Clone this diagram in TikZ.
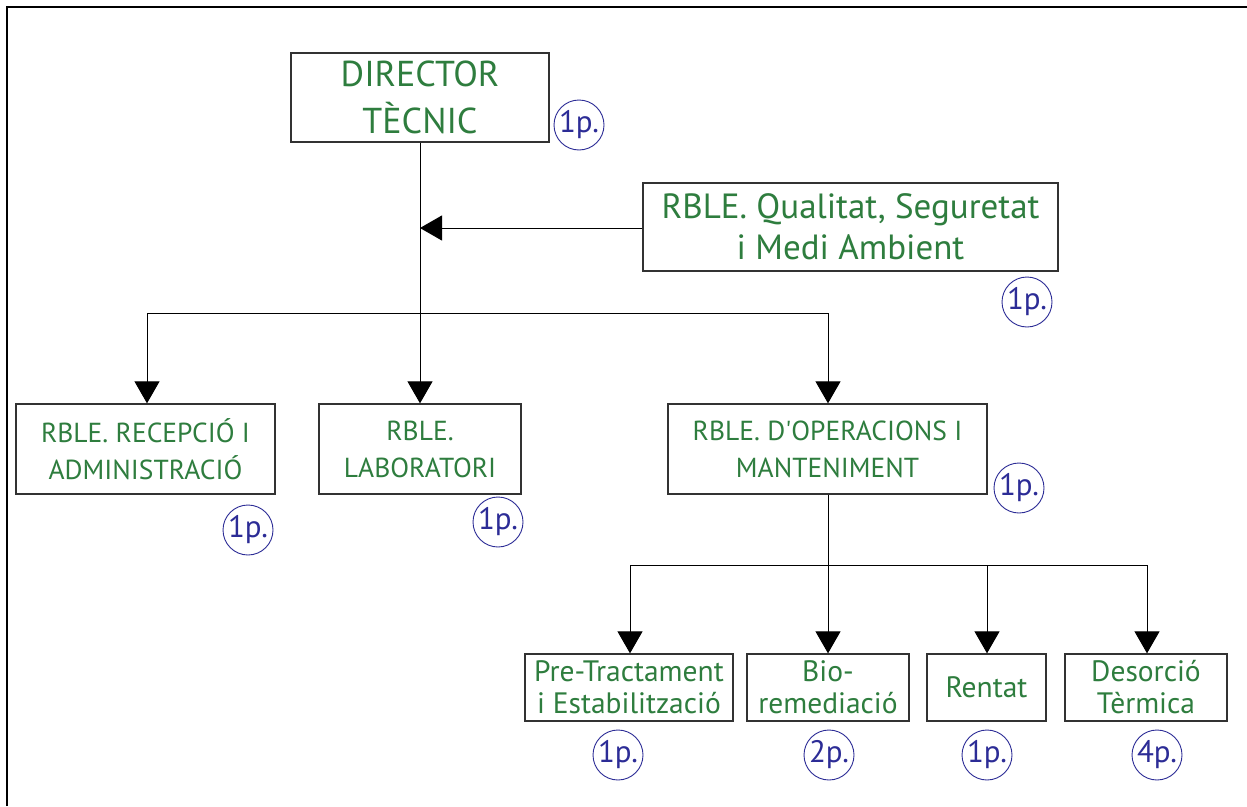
\documentclass[tikz,border=0pt]{standalone}
\usepackage{fontspec}
\setmainfont{PT Sans}
\usetikzlibrary{arrows.meta}
\definecolor{txtgreen}{RGB}{46,125,62}
\definecolor{circblue}{RGB}{44,44,150}
\definecolor{boxline}{RGB}{50,50,50}
\tikzset{
  box/.style={draw=boxline, line width=1.3pt, inner sep=0pt, align=center, text=txtgreen},
  cnt/.style={draw=circblue, line width=0.9pt, circle, minimum size=50pt, inner sep=0pt, text=circblue, font=\fontsize{31}{31}\selectfont},
  conn/.style={draw=black, line width=1pt},
  arr/.style={conn, -{Triangle[length=22pt,width=25pt]}},
}
\begin{document}
\begin{tikzpicture}[x=1pt,y=-1pt]
\useasboundingbox (0,0) rectangle (1247,806);
\fill[white] (0,0) rectangle (1247,806);
\draw[line width=2.5pt] (7,806) -- (7,7) -- (1247,7);

\node[box, minimum width=258pt, minimum height=89pt, font=\fontsize{36}{47}\selectfont] (dir) at (420,97.5) {DIRECTOR\\TÈCNIC};
\node[box, minimum width=415pt, minimum height=88pt, font=\fontsize{35}{41}\selectfont] (q) at (850.5,227) {RBLE. Qualitat, Seguretat\\i Medi Ambient};
\node[box, minimum width=259pt, minimum height=90pt, font=\fontsize{27.5}{37}\selectfont] (rec) at (145.5,449) {RBLE. RECEPCIÓ I\\ADMINISTRACIÓ};
\node[box, minimum width=202pt, minimum height=90pt, font=\fontsize{27.5}{37}\selectfont] (lab) at (420,449) {RBLE.\\LABORATORI};
\node[box, minimum width=319pt, minimum height=90pt, font=\fontsize{27.5}{37}\selectfont] (op) at (827.5,449) {RBLE. D\textquotesingle OPERACIONS I\\MANTENIMENT};
\node[box, minimum width=208pt, minimum height=67pt, font=\fontsize{29.5}{32}\selectfont] (pre) at (629,687.5) {Pre-Tractament\\i Estabilització};
\node[box, minimum width=162pt, minimum height=67pt, font=\fontsize{29.5}{32}\selectfont] (bio) at (828,687.5) {Bio-\\remediació};
\node[box, minimum width=119pt, minimum height=67pt, font=\fontsize{29.5}{32}\selectfont] (ren) at (986.5,687.5) {Rentat};
\node[box, minimum width=162pt, minimum height=67pt, font=\fontsize{29.5}{32}\selectfont] (des) at (1146,687.5) {Desorció\\Tèrmica};

\node[cnt] (cdir) at (579,125) {1p.};
\node[cnt] (cq) at (1027,302) {1p.};
\node[cnt] (crec) at (248,530) {1p.};
\node[cnt] (clab) at (498,522) {1p.};
\node[cnt] (cop) at (1019,488) {1p.};
\node[cnt] (cpre) at (618,755) {1p.};
\node[cnt] (cbio) at (829,755) {2p.};
\node[cnt] (cren) at (987,755) {1p.};
\node[cnt] (cdes) at (1157,755) {4p.};

\coordinate (j1) at (420,228);
\coordinate (h1) at (420,313);
\coordinate (h1l) at (147,313);
\coordinate (h1r) at (828,313);
\coordinate (h2) at (828,565);
\coordinate (h2l) at (630,565);
\coordinate (h2r) at (1147,565);
\coordinate (h2m) at (987,565);

% top level
\draw[arr] (dir.south) -- (lab.north);
\draw[arr] (q.west |- j1) -- (j1);
\draw[conn] (h1l) -- (h1r);
\draw[arr] (h1l) -- (rec.north -| h1l);
\draw[arr] (h1r) -- (op.north -| h1r);

% operations
\draw[conn] (op.south -| h2) -- (h2);
\draw[conn] (h2l) -- (h2r);
\draw[arr] (h2l) -- (pre.north -| h2l);
\draw[arr] (h2) -- (bio.north -| h2);
\draw[arr] (h2m) -- (ren.north -| h2m);
\draw[arr] (h2r) -- (des.north -| h2r);
\end{tikzpicture}
\end{document}
